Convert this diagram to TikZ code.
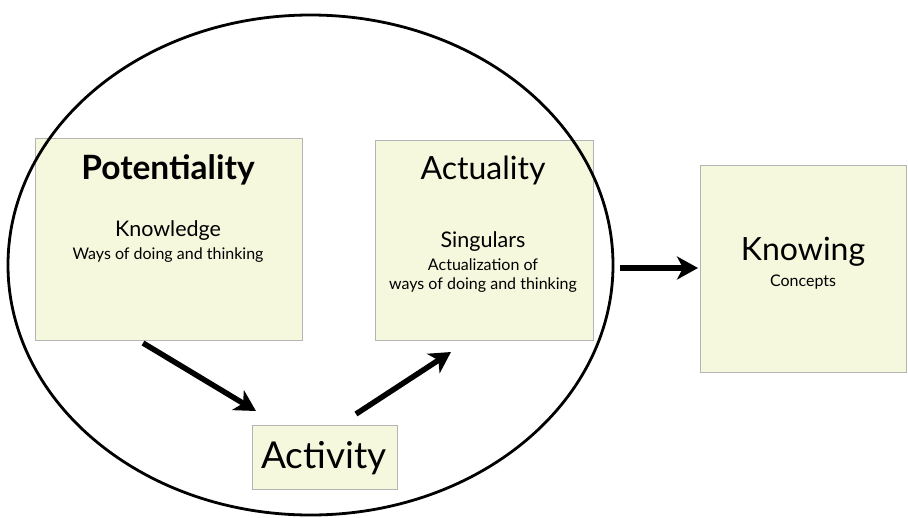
\documentclass[tikz,border=0pt]{standalone}
\usepackage{fontspec}
\setmainfont{Lato}
\usetikzlibrary{arrows.meta,calc,shapes.geometric}
\definecolor{boxfill}{HTML}{F6F8DE}
\definecolor{boxline}{HTML}{B4B4B4}
\begin{document}
\begin{tikzpicture}[x=1pt,y=-1pt,
  panel/.style={draw=boxline,fill=boxfill,line width=1.2pt,anchor=north west,inner sep=0pt},
  bigtext/.style={font=\fontsize{32}{38}\selectfont},
  midtext/.style={font=\fontsize{21.5}{26}\selectfont},
  smalltext/.style={font=\fontsize{16}{19}\selectfont},
  arrow/.style={line width=5.5pt,-{Stealth[length=21pt,width=23pt,inset=6pt]}}]
\useasboundingbox (0,0) rectangle (908,517);
% boxes
\node[panel,minimum width=267pt,minimum height=202pt] (pot) at (35,138) {};
\node[panel,minimum width=218pt,minimum height=200pt] (act) at (375,140) {};
\node[panel,minimum width=206pt,minimum height=207pt] (kno) at (700,165) {};
\node[panel,minimum width=145pt,minimum height=64pt] (acv) at (252,425) {};
% texts
\node[font=\fontsize{33.5}{40}\selectfont\bfseries] (potT) at (168,170) {Potentiality};
\node[midtext] (potK) at (168,231) {Knowledge};
\node[smalltext] (potW) at (168,255) {Ways of doing and thinking};
\node[bigtext] (actT) at (483,170) {Actuality};
\node[midtext] (actS) at (483,242) {Singulars};
\node[smalltext] (actA) at (483,265) {Actualization of};
\node[smalltext] (actW) at (483,285) {ways of doing and thinking};
\node[bigtext] (knoT) at (803,252) {Knowing};
\node[smalltext] (knoC) at (803,282) {Concepts};
\node[font=\fontsize{37}{44}\selectfont] (acvT) at (324,458) {Activity};
% ellipse
\node[draw=black,line width=2.8pt,ellipse,minimum width=605pt,minimum height=500pt,inner sep=0pt] (circ) at (310.5,265) {};
% arrows
\coordinate (a1s) at (143,343);
\coordinate (a1e) at (256,411);
\coordinate (a2s) at (356,414);
\coordinate (a2e) at (451,352);
\coordinate (a3s) at (620,268);
\coordinate (a3e) at (698,268);
\draw[arrow] (a1s) -- (a1e);
\draw[arrow] (a2s) -- (a2e);
\draw[arrow] (a3s) -- (a3e);
\end{tikzpicture}
\end{document}
